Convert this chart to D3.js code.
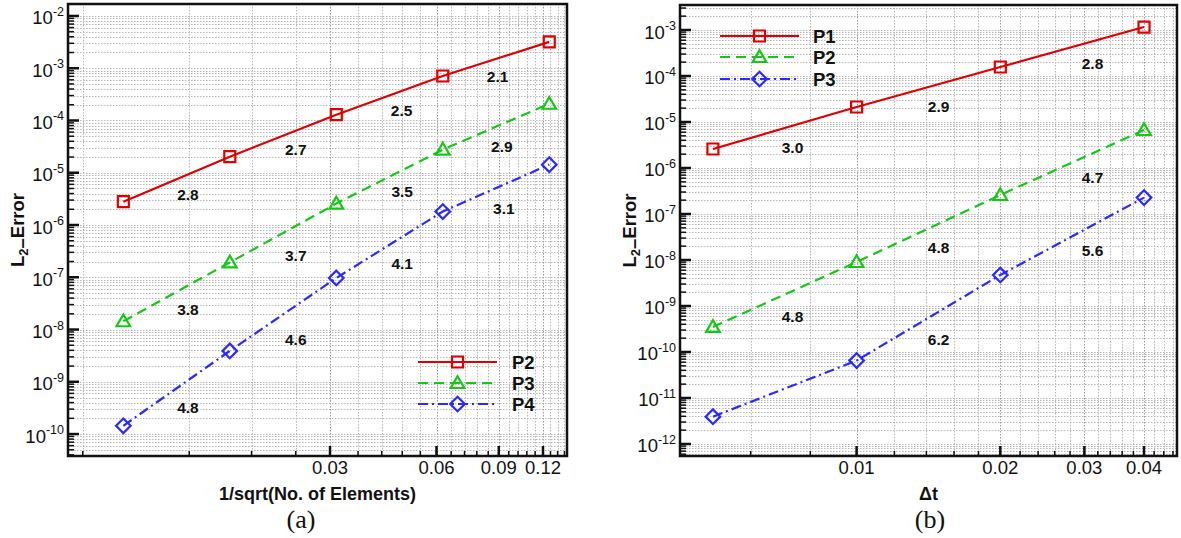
<!DOCTYPE html>
<html><head><meta charset="utf-8">
<script src="https://cdn.jsdelivr.net/npm/d3@7"></script>
<style>
body{margin:0;background:#fff}
svg{display:block}
text{font-family:"Liberation Sans",Arial,Helvetica,sans-serif;fill:#111}
</style>
</head><body>
<svg id="c" width="1181" height="538"></svg>
<script>
// ---------- DATA : panel (a) ----------
const aX = [0.0078125, 0.015625, 0.03125, 0.0625, 0.125];
const aP2 = [2.8e-6, 2.03e-5, 1.29e-4, 7.1e-4, 3.2e-3];
const aP3 = [1.44e-8, 1.92e-7, 2.57e-6, 2.77e-5, 2.09e-4];
const aP4 = [1.44e-10, 3.9e-9, 9.7e-8, 1.81e-6, 1.43e-5];
const aNames = ["P2", "P3", "P4"];
const aXTicks = [0.03, 0.06, 0.09, 0.12];
const aXMinorStep = 0.006;
const aYExps = [-10, -9, -8, -7, -6, -5, -4, -3, -2];
const aRateText = ["2.8","2.7","2.5","2.1","2.9","3.5","3.1","3.7","4.1","3.8","4.6","4.8"];
const aRateX = [0.0119,0.024,0.0478,0.0893,0.0918,0.048,0.093,0.024,0.048,0.0119,0.024,0.0119];
const aRateY = [3.99e-6,2.89e-5,1.6e-4,7.1e-4,3.3e-5,4.4e-6,2.16e-6,2.7e-7,1.84e-7,2.44e-8,6.5e-9,3.3e-10];
const aXTitle = "1/sqrt(No. of Elements)";

// ---------- DATA : panel (b) ----------
const bX = [0.005, 0.01, 0.02, 0.04];
const bP1 = [2.59e-6, 2.12e-5, 1.57e-4, 1.16e-3];
const bP2 = [3.5e-10, 9.05e-9, 2.59e-7, 6.7e-6];
const bP3 = [3.93e-12, 6.5e-11, 4.72e-9, 2.27e-7];
const bNames = ["P1", "P2", "P3"];
const bXTicks = [0.01, 0.02, 0.03, 0.04];
const bXMinorStep = 0.002;
const bYExps = [-12, -11, -10, -9, -8, -7, -6, -5, -4, -3];
const bRateText = ["3.0","2.9","2.8","4.8","4.8","4.7","6.2","5.6"];
const bRateX = [0.00734,0.01485,0.0312,0.00734,0.01485,0.0312,0.01485,0.0312];
const bRateY = [2.86e-6,2.23e-5,1.92e-4,6.06e-10,1.92e-8,6.37e-7,1.92e-10,1.65e-8];
const bXTitle = "\u0394t";

// ---------- STYLE ----------
const colors = ["#e00000", "#16c816", "#2a2aff"];
const dashes = [null, "10,6", "10,4,2,4"];
const shapes = ["square", "triangle", "diamond"];

const svg = d3.select("#c");

function markerPath(shape, cx, cy) {
  if (shape === "square") { const h = 5.5; return `M${cx-h},${cy-h}H${cx+h}V${cy+h}H${cx-h}Z`; }
  if (shape === "triangle") { return `M${cx},${cy-6.8}L${cx+6.8},${cy+5}L${cx-6.8},${cy+5}Z`; }
  const r = 7.3; return `M${cx},${cy-r}L${cx+r},${cy}L${cx},${cy+r}L${cx-r},${cy}Z`;
}

function drawPanel(p) {
  const g = svg.append("g");
  const x = d3.scaleLog().domain(p.xDomain).range([p.x0, p.x1]);
  const y = d3.scaleLog().domain(p.yDomain).range([p.y1, p.y0]);

  const xMinor = [];
  for (let i = 1; i * p.xStep <= p.xDomain[1]; i++) {
    const v = +(i * p.xStep).toFixed(6);
    if (v >= p.xDomain[0]) xMinor.push(v);
  }
  const yMinor = [];
  const e0 = Math.floor(Math.log10(p.yDomain[0])), e1 = Math.ceil(Math.log10(p.yDomain[1]));
  for (let e = e0; e <= e1; e++) for (let k = 2; k <= 9; k++) {
    const v = k * Math.pow(10, e);
    if (v >= p.yDomain[0] && v <= p.yDomain[1]) yMinor.push(v);
  }
  const yMajor = p.yExps.map(e => Math.pow(10, e));

  // grid
  const grid = g.append("g");
  grid.selectAll(".gx").data(xMinor).join("line")
    .attr("x1", d => Math.round(x(d)) + 0.5).attr("x2", d => Math.round(x(d)) + 0.5).attr("y1", p.y0).attr("y2", p.y1)
    .attr("stroke", d => p.xTicks.some(t => Math.abs(t - d) < 1e-9) ? "#9a9a9a" : "#b8b8b8")
    .attr("stroke-width", 1).attr("stroke-dasharray", "1.5,1.5");
  grid.selectAll(".gy").data(yMinor.concat(yMajor)).join("line")
    .attr("x1", p.x0).attr("x2", p.x1).attr("y1", d => Math.round(y(d)) + 0.5).attr("y2", d => Math.round(y(d)) + 0.5)
    .attr("stroke", "#b8b8b8").attr("stroke-width", 1).attr("stroke-dasharray", "1.5,1.5");

  // series
  const line = d3.line().x(d => x(d[0])).y(d => y(d[1]));
  p.series.forEach((s, i) => {
    const pts = p.xs.map((xv, j) => [xv, s[j]]);
    g.append("path").attr("d", line(pts)).attr("fill", "none")
      .attr("stroke", colors[i]).attr("stroke-width", 2.2)
      .attr("stroke-dasharray", dashes[i]);
    g.selectAll(null).data(pts).join("path")
      .attr("d", d => markerPath(shapes[i], x(d[0]), y(d[1])))
      .attr("fill", "none").attr("stroke", colors[i]).attr("stroke-width", 2.2);
  });

  // rate labels
  g.selectAll(null).data(p.rateText).join("text")
    .attr("x", (d, i) => x(p.rateX[i])).attr("y", (d, i) => y(p.rateY[i]) + 6)
    .attr("text-anchor", "middle").attr("font-size", 15.5).attr("font-weight", "bold").text(d => d);

  // legend
  p.names.forEach((n, i) => {
    const ly = p.leg.y[i];
    g.append("line").attr("x1", p.leg.x0).attr("x2", p.leg.x1).attr("y1", ly).attr("y2", ly)
      .attr("stroke", colors[i]).attr("stroke-width", 2.2).attr("stroke-dasharray", dashes[i]);
    g.append("path").attr("d", markerPath(shapes[i], (p.leg.x0 + p.leg.x1) / 2, ly))
      .attr("fill", "none").attr("stroke", colors[i]).attr("stroke-width", 2.2);
    g.append("text").attr("x", p.leg.tx).attr("y", ly + 6.5).attr("font-size", 18.5)
      .attr("font-weight", "bold").text(n);
  });

  // frame
  g.append("rect").attr("x", p.x0).attr("y", p.y0).attr("width", p.x1 - p.x0).attr("height", p.y1 - p.y0)
    .attr("fill", "none").attr("stroke", "#111").attr("stroke-width", 2.5);

  // ticks
  g.selectAll(null).data(yMinor).join("line")
    .attr("x1", p.x0).attr("x2", p.x0 + 6).attr("y1", d => y(d)).attr("y2", d => y(d))
    .attr("stroke", "#111").attr("stroke-width", 1.5);
  g.selectAll(null).data(yMajor).join("line")
    .attr("x1", p.x0).attr("x2", p.x0 + 11).attr("y1", d => y(d)).attr("y2", d => y(d))
    .attr("stroke", "#111").attr("stroke-width", 2.5);
  g.selectAll(null).data(xMinor).join("line")
    .attr("x1", d => x(d)).attr("x2", d => x(d)).attr("y1", p.y1).attr("y2", p.y1 - 5)
    .attr("stroke", "#111").attr("stroke-width", 1.5);
  g.selectAll(null).data(p.xTicks).join("line")
    .attr("x1", d => x(d)).attr("x2", d => x(d)).attr("y1", p.y1).attr("y2", p.y1 - 10)
    .attr("stroke", "#111").attr("stroke-width", 2.5);

  // tick labels
  g.selectAll(null).data(p.xTicks).join("text")
    .attr("x", d => x(d)).attr("y", p.y1 + 18).attr("text-anchor", "middle")
    .attr("font-size", 18.5).text(d => d3.format(".2f")(d));
  const yl = g.selectAll(null).data(p.yExps).join("text")
    .attr("x", p.x0 - 4).attr("y", d => y(Math.pow(10, d)) + 8.5).attr("text-anchor", "end")
    .attr("font-size", 18.5);
  yl.append("tspan").text("10");
  yl.append("tspan").attr("dy", -8.5).attr("font-size", 12.5).text(d => "-" + Math.abs(d));

  // axis titles
  g.append("text").attr("x", (p.x0 + p.x1) / 2).attr("y", 500).attr("text-anchor", "middle")
    .attr("font-size", 18).attr("font-weight", "bold").text(p.xTitle);
  const yt = g.append("text")
    .attr("transform", `translate(${p.yTitleX},${(p.y0 + p.y1) / 2}) rotate(-90)`)
    .attr("text-anchor", "middle").attr("font-size", 18.5).attr("font-weight", "bold");
  yt.append("tspan").text("L");
  yt.append("tspan").attr("dy", 4).attr("font-size", 13).text("2");
  yt.append("tspan").text("\u2013");
  yt.append("tspan").attr("dy", -4).text("Error");

  // panel caption
  g.append("text").attr("x", p.capX).attr("y", 528).attr("text-anchor", "middle")
    .attr("font-size", 26).style("font-family", "'Liberation Serif','Times New Roman',serif").text(p.cap);
}

drawPanel({
  x0: 68, x1: 567, y0: 4, y1: 456,
  xDomain: [0.00545, 0.1403], yDomain: [Math.pow(10, -10.42), Math.pow(10, -1.771)],
  xs: aX, series: [aP2, aP3, aP4], names: aNames,
  xTicks: aXTicks, xStep: aXMinorStep, yExps: aYExps,
  rateText: aRateText, rateX: aRateX, rateY: aRateY,
  leg: { x0: 418, x1: 497, y: [362, 383, 404], tx: 512 },
  xTitle: aXTitle, yTitleX: 24, cap: "(a)", capX: 301
});
drawPanel({
  x0: 680, x1: 1177, y0: 5, y1: 456,
  xDomain: [0.004266, 0.0469], yDomain: [Math.pow(10, -12.261), Math.pow(10, -2.4565)],
  xs: bX, series: [bP1, bP2, bP3], names: bNames,
  xTicks: bXTicks, xStep: bXMinorStep, yExps: bYExps,
  rateText: bRateText, rateX: bRateX, rateY: bRateY,
  leg: { x0: 720, x1: 799, y: [36, 57, 79], tx: 813 },
  xTitle: bXTitle, yTitleX: 636, cap: "(b)", capX: 930
});
</script>
</body></html>
